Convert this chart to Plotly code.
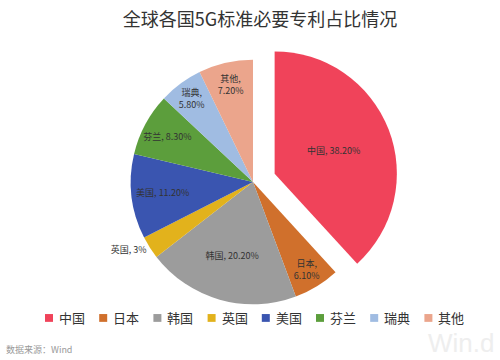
import plotly.graph_objects as go

labels = ["中国", "日本", "韩国", "英国", "美国", "芬兰", "瑞典", "其他"]
values = [38.2, 6.1, 20.2, 3.0, 11.2, 8.3, 5.8, 7.2]
value_text = ["38.20%", "6.10%", "20.20%", "3%", "11.20%", "8.30%", "5.80%", "7.20%"]
two_line = [False, True, False, False, False, False, True, True]
colors = ["#f0435a", "#d0702c", "#9c9c9c", "#e2b21c", "#3a55b0", "#5c9e3c", "#a0bce2", "#eba58c"]
pulls = [0.19, 0, 0, 0, 0, 0, 0, 0]
positions = ["inside", "inside", "inside", "outside", "inside", "inside", "inside", "inside"]

texts = [f"{l},<br>{v}" if t else f"{l}, {v}" for l, v, t in zip(labels, value_text, two_line)]

W, H = 500, 360
cx, cy, r = 253, 178, 125
half = r * (1 + max(pulls))

fig = go.Figure(go.Pie(
    labels=labels, values=values, text=texts, texttemplate="%{text}",
    textposition=positions, insidetextorientation="horizontal",
    sort=False, direction="clockwise", rotation=0, pull=pulls,
    marker=dict(colors=colors, line=dict(width=0)),
    textfont=dict(size=9, color="#333333", family="Noto Sans CJK SC"),
    hoverinfo="label+percent", showlegend=False,
    domain=dict(x=[(cx - half) / W, (cx + half) / W],
                y=[(H - cy - half) / H, (H - cy + half) / H]),
))

# custom legend row (layout only; colours and names come from the data lists)
leg_x0, leg_step, leg_y, sq = 45, 54.2, 317, 8
shapes = []
annotations = []
for i, (lab, col) in enumerate(zip(labels, colors)):
    x = leg_x0 + leg_step * i
    shapes.append(dict(type="rect", xref="paper", yref="paper",
                       x0=x / W, x1=(x + sq) / W,
                       y0=(H - leg_y - sq / 2) / H, y1=(H - leg_y + sq / 2) / H,
                       fillcolor=col, line=dict(width=0)))
    annotations.append(dict(text=lab, x=(x + sq + 4) / W, y=(H - leg_y) / H,
                            xref="paper", yref="paper", xanchor="left", yanchor="middle",
                            showarrow=False, font=dict(size=13, color="#333333")))

annotations += [
    dict(text="数据来源：Wind", x=4 / W, y=(H - 349) / H, xref="paper", yref="paper",
         xanchor="left", yanchor="middle", showarrow=False,
         font=dict(size=9, color="#999999")),
    dict(text="Win.d", x=496 / W, y=0, xref="paper", yref="paper",
         xanchor="right", yanchor="bottom", showarrow=False,
         font=dict(size=26, color="#eeeeee", family="Liberation Sans")),
]

fig.update_layout(
    width=W, height=H,
    margin=dict(l=0, r=0, t=0, b=0),
    paper_bgcolor="white", plot_bgcolor="white",
    font=dict(family="Noto Sans CJK SC", color="#333333"),
    title=dict(text="全球各国5G标准必要专利占比情况", x=0.52, xanchor="center",
               y=(H - 20) / H, yanchor="middle", font=dict(size=18, color="#333333")),
    showlegend=False,
    shapes=shapes,
    annotations=annotations,
)

fig.write_html("out.html", config={"displayModeBar": False},
               post_script="document.body.style.margin='0';document.body.style.padding='0';")
